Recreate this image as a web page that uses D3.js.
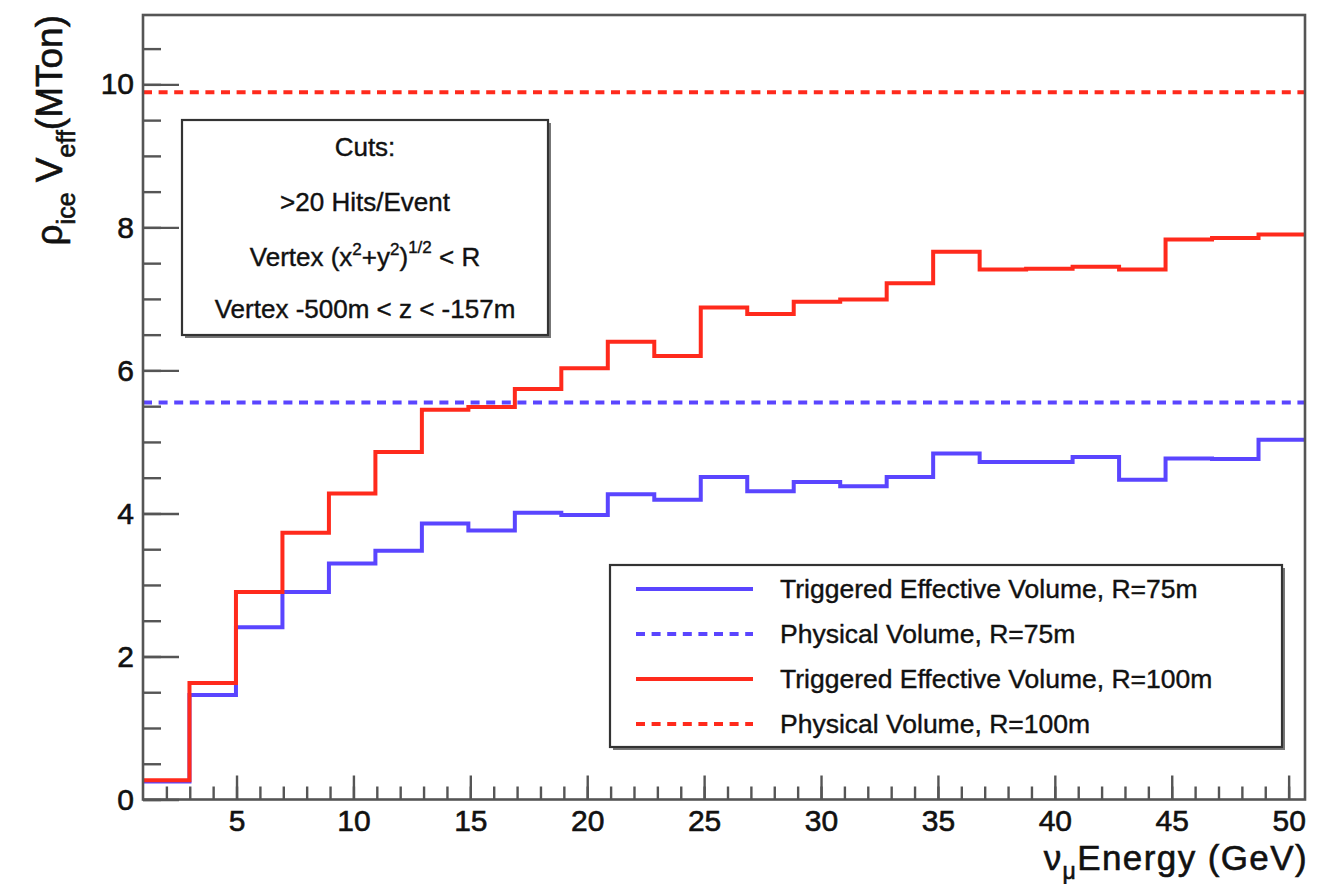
<!DOCTYPE html>
<html>
<head>
<meta charset="utf-8">
<script src="https://cdn.jsdelivr.net/npm/d3@7"></script>
<style>
  html, body { margin: 0; padding: 0; background: #fff; }
  svg { display: block; }
  text { font-family: "Liberation Sans", Arial, Helvetica, sans-serif; fill: #111; }
</style>
</head>
<body>
<svg id="chart" width="1325" height="884"></svg>
<script>
// Histogram binning: 25 bins of neutrino energy (GeV)
const binEdges = [1, 2.988, 4.976, 6.964, 8.952, 10.94, 12.928, 14.916, 16.904, 18.892,
  20.88, 22.868, 24.856, 26.844, 28.832, 30.82, 32.808, 34.796, 36.784, 38.772,
  40.76, 42.748, 44.736, 46.724, 48.712, 50.7];

// Triggered effective volume (MTon) per bin
const trigR75 = [0.25, 1.46, 2.41, 2.90, 3.30, 3.48, 3.86, 3.76, 4.01, 3.98, 4.27, 4.19, 4.51,
  4.31, 4.44, 4.38, 4.51, 4.84, 4.72, 4.72, 4.79, 4.47, 4.77, 4.76, 5.03];
const trigR100 = [0.27, 1.63, 2.90, 3.73, 4.28, 4.86, 5.45, 5.49, 5.74, 6.03, 6.40, 6.20, 6.88,
  6.79, 6.96, 6.99, 7.22, 7.66, 7.41, 7.42, 7.45, 7.41, 7.83, 7.85, 7.90];

// Physical volume (MTon) of the fiducial cylinders
const physR75 = 5.55;
const physR100 = 9.89;

// Axis ticks
const xMajorTicks = [5, 10, 15, 20, 25, 30, 35, 40, 45, 50];
const xMinorTicks = d3.range(2, 51, 1);
const yMajorTicks = [0, 2, 4, 6, 8, 10];
const yMinorTicks = d3.range(0, 10.51, 0.5);

const legendLabels = [
  "Triggered Effective Volume, R=75m",
  "Physical Volume, R=75m",
  "Triggered Effective Volume, R=100m",
  "Physical Volume, R=100m"
];

const BLUE = "#5a45ff";
const RED = "#ff2a1c";
const AXIS = "#555";

const svg = d3.select("#chart");
const frame = { left: 143, right: 1305, top: 15, bottom: 799.5 };

const x = d3.scaleLinear().domain([1, 50.7]).range([frame.left, frame.right]);
const y = d3.scaleLinear().domain([0, 10.97]).range([frame.bottom, frame.top]);

svg.append("rect").attr("width", 1325).attr("height", 884).attr("fill", "#fff");

// ---- histograms ----
function stepPoints(vals) {
  const pts = vals.map((v, i) => [binEdges[i], v]);
  pts.push([binEdges[binEdges.length - 1], vals[vals.length - 1]]);
  return pts;
}
const stepLine = d3.line().x(d => x(d[0])).y(d => y(d[1])).curve(d3.curveStepAfter);

const plot = svg.append("g");
plot.append("path").attr("d", stepLine(stepPoints(trigR75)))
  .attr("fill", "none").attr("stroke", BLUE).attr("stroke-width", 4);
plot.append("path").attr("d", stepLine(stepPoints(trigR100)))
  .attr("fill", "none").attr("stroke", RED).attr("stroke-width", 4);

// physical-volume reference lines
[[physR75, BLUE], [physR100, RED]].forEach(([v, c]) => {
  plot.append("line")
    .attr("x1", frame.left).attr("x2", frame.right)
    .attr("y1", y(v)).attr("y2", y(v))
    .attr("stroke", c).attr("stroke-width", 4)
    .attr("stroke-dasharray", "9,6.6");
});

// ---- frame ----
svg.append("rect")
  .attr("x", frame.left).attr("y", frame.top)
  .attr("width", frame.right - frame.left).attr("height", frame.bottom - frame.top)
  .attr("fill", "none").attr("stroke", AXIS).attr("stroke-width", 2.6);

// ---- axes ----
function styleAxis(g) {
  g.select(".domain").remove();
  g.selectAll(".tick line").attr("stroke", AXIS).attr("stroke-width", 2.4);
  g.selectAll(".tick text")
    .attr("font-size", 30)
    .attr("fill", "#111")
    .attr("stroke", "#111").attr("stroke-width", 0.6)
    .attr("font-family", "'Liberation Sans', Arial, sans-serif");
}

svg.append("g").attr("transform", `translate(0,${frame.bottom})`)
  .call(d3.axisBottom(x).tickValues(xMinorTicks).tickSizeInner(-13).tickSizeOuter(0).tickFormat(""))
  .call(styleAxis);
svg.append("g").attr("transform", `translate(0,${frame.bottom})`)
  .call(d3.axisBottom(x).tickValues(xMajorTicks).tickSizeInner(-24).tickSizeOuter(0).tickPadding(10.5).tickFormat(d3.format("d")))
  .call(styleAxis);

svg.append("g").attr("transform", `translate(${frame.left},0)`)
  .call(d3.axisLeft(y).tickValues(yMinorTicks).tickSizeInner(-18).tickSizeOuter(0).tickFormat(""))
  .call(styleAxis);
svg.append("g").attr("transform", `translate(${frame.left},0)`)
  .call(d3.axisLeft(y).tickValues(yMajorTicks).tickSizeInner(-36).tickSizeOuter(0).tickPadding(9).tickFormat(d3.format("d")))
  .call(styleAxis);

// ---- axis titles ----
const xt = svg.append("text")
  .attr("x", frame.right + 3).attr("y", 869.5)
  .attr("text-anchor", "end").attr("font-size", 35)
  .attr("letter-spacing", 1.4)
  .attr("stroke", "#111").attr("stroke-width", 0.6);
xt.append("tspan").text("ν");
xt.append("tspan").attr("font-size", 23).attr("dy", 9).text("μ");
xt.append("tspan").attr("dy", -9).text("Energy (GeV)");

const yt = svg.append("text")
  .attr("transform", "translate(62,15) rotate(-90)")
  .attr("text-anchor", "end").attr("font-size", 37)
  .attr("stroke", "#111").attr("stroke-width", 0.6);
yt.append("tspan").text("ρ");
yt.append("tspan").attr("font-size", 25).attr("dy", 13).text("ice");
yt.append("tspan").attr("dy", -13).text(" V");
yt.append("tspan").attr("font-size", 25).attr("dy", 13).text("eff");
yt.append("tspan").attr("dy", -13).text("(MTon)");

// ---- boxes with shadow ----
function paveBox(x0, y0, x1, y1) {
  svg.append("rect").attr("x", x0 + 3).attr("y", y0 + 3)
    .attr("width", x1 - x0).attr("height", y1 - y0).attr("fill", "#777");
  svg.append("rect").attr("x", x0).attr("y", y0)
    .attr("width", x1 - x0).attr("height", y1 - y0)
    .attr("fill", "#fff").attr("stroke", "#333").attr("stroke-width", 2.2);
}

// cuts box
paveBox(182, 120, 548, 335);
const cx = 365;
const cutsFont = 26;
function cutLine(yb) {
  return svg.append("text").attr("x", cx).attr("y", yb)
    .attr("text-anchor", "middle").attr("font-size", cutsFont)
    .attr("stroke", "#111").attr("stroke-width", 0.4);
}
cutLine(156).text("Cuts:");
cutLine(211).text(">20 Hits/Event");
const v1 = cutLine(266);
v1.append("tspan").text("Vertex (x");
v1.append("tspan").attr("font-size", 17).attr("dy", -11).text("2");
v1.append("tspan").attr("dy", 11).text("+y");
v1.append("tspan").attr("font-size", 17).attr("dy", -11).text("2");
v1.append("tspan").attr("dy", 11).text(")");
v1.append("tspan").attr("font-size", 17).attr("dy", -13).text("1/2");
v1.append("tspan").attr("dy", 13).text(" < R");
cutLine(318).text("Vertex -500m < z < -157m");

// legend
paveBox(610, 565, 1282, 747);
const legendStyles = [
  { color: BLUE, dash: null },
  { color: BLUE, dash: "9,6.6" },
  { color: RED, dash: null },
  { color: RED, dash: "9,6.6" }
];
const legendRows = [589, 634, 679, 724];
legendLabels.forEach((lab, i) => {
  const ly = legendRows[i];
  svg.append("line").attr("x1", 636).attr("x2", 753).attr("y1", ly).attr("y2", ly)
    .attr("stroke", legendStyles[i].color).attr("stroke-width", 4)
    .attr("stroke-dasharray", legendStyles[i].dash);
  svg.append("text").attr("x", 780).attr("y", ly + 9)
    .attr("font-size", 26.5)
    .attr("stroke", "#111").attr("stroke-width", 0.4)
    .text(lab);
});
</script>
</body>
</html>
